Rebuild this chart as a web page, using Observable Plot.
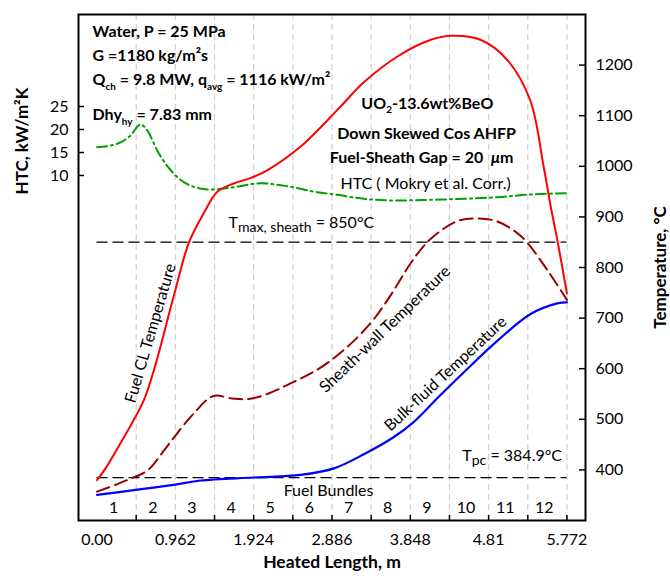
<!DOCTYPE html>
<html><head><meta charset="utf-8">
<script src="https://cdn.jsdelivr.net/npm/d3@7"></script>
<script src="https://cdn.jsdelivr.net/npm/@observablehq/plot@0.6"></script>
<style>
html,body{margin:0;padding:0;background:#fff;}
</style>
</head><body><div id="chart"></div>
<script>
// ---------- data ----------
const totalLength = 5.772;
const bundleLength = 0.481;
const bundleNumbers = [1,2,3,4,5,6,7,8,9,10,11,12];
const xTickValues = [0, 0.962, 1.924, 2.886, 3.848, 4.81, 5.772];
const xTickLabels = ["0.00", "0.962", "1.924", "2.886", "3.848", "4.81", "5.772"];
const tempTicks = [400, 500, 600, 700, 800, 900, 1000, 1100, 1200];
const htcTicks = [10, 15, 20, 25];
const tMaxSheath = 850;
const tPc = 384.9;

// Fuel centreline temperature, °C
const fuelClX = [0, 0.1, 0.31, 0.575, 0.70, 0.94, 1.13, 1.31, 1.48, 1.68, 1.89, 2.09, 2.5, 2.99, 3.27, 3.69, 4.1, 4.34, 4.71, 5.04, 5.32, 5.485, 5.571, 5.653, 5.772];
const fuelClT = [380, 402, 459, 538, 598, 742, 850, 907, 950, 966, 977, 992, 1039, 1118, 1165, 1217, 1250, 1258, 1250, 1210, 1131, 1000, 922, 855, 749];

// Sheath-wall temperature, °C
const sheathX = [0, 0.25, 0.49, 0.55, 0.636, 0.92, 1.19, 1.43, 1.66, 1.86, 2.09, 2.377, 2.705, 3.032, 3.36, 3.606, 3.85, 4.056, 4.26, 4.45, 4.671, 4.916, 5.162, 5.285, 5.531, 5.772];
const sheathT = [357, 372, 388, 392, 401, 459, 512, 546, 541, 540, 550, 571, 598, 637, 690, 745, 808, 850, 877, 893, 897, 891, 868, 849, 795, 736];

// Bulk-fluid temperature, °C
const bulkX = [0, 0.452, 0.96, 1.271, 1.926, 2.5, 2.909, 3.278, 3.646, 3.892, 4.2, 4.506, 4.916, 5.326, 5.653, 5.772];
const bulkT = [350.6, 360, 371, 379, 385, 390, 403, 431, 465, 495, 545, 593, 655, 708, 729, 731];

// HTC (Mokry et al. correlation), kW/m2K
const htcX = [0, 0.248, 0.412, 0.534, 0.617, 0.74, 0.943, 1.149, 1.394, 1.677, 2.009, 2.291, 2.705, 2.951, 3.278, 3.688, 4.097, 4.506, 4.916, 5.326, 5.776];
const htcV = [16.15, 16.9, 18.7, 21.1, 19.8, 15.4, 10.4, 7.8, 6.96, 7.46, 8.3, 7.8, 6.37, 5.8, 4.93, 4.57, 4.72, 4.93, 5.28, 5.87, 6.15];

// ---------- layout ----------
const W = 670, H = 576;
const mL = 78, mR = 85, mT = 14, mB = 56;
const frameW = W - mL - mR, frameH = H - mT - mB;
const tempDomain = [300, 1300];
const htcDomain = [-65, 45];
const htcToT = h => tempDomain[0] + (h - htcDomain[0]) * (tempDomain[1] - tempDomain[0]) / (htcDomain[1] - htcDomain[0]);

const fuelCl = fuelClX.map((x, i) => ({x, t: fuelClT[i]}));
const sheath = sheathX.map((x, i) => ({x, t: sheathT[i]}));
const bulk = bulkX.map((x, i) => ({x, t: bulkT[i]}));
const htc = htcX.map((x, i) => ({x, t: htcToT(htcV[i])}));
const bundleEdges = bundleNumbers.map(k => k * bundleLength);

const FONT = "Lato, 'Open Sans', sans-serif";

const boldLeftNotes = [
  {x: -0.055, t: 1266, s: "Water, P = 25 MPa"},
  {x: -0.055, t: 1219, s: "G =1180 kg/m²s"},
  {x: -0.055, t: 1170, s: "Q_{ch} = 9.8 MW, q_{avg} = 1116 kW/m²"},
  {x: -0.055, t: 1102, s: "Dhy_{hy} = 7.83 mm"}
];
const boldCenterNotes = [
  {x: 4.057, t: 1124, s: "UO_{2}-13.6wt%BeO"},
  {x: 4.048, t: 1065, s: "Down Skewed Cos AHFP"},
  {x: 3.986, t: 1017, s: "Fuel-Sheath Gap = 20  *{μ}m"}
];
const plainCenterNotes = [
  {x: 4.036, t: 966, s: "HTC ( Mokry et al. Corr.)"},
  {x: 2.844, t: 359, s: "Fuel Bundles"}
];
const plainLeftNotes = [
  {x: 1.615, t: 889, s: "T~{max, sheath} = 850°C"},
  {x: 4.486, t: 428.5, s: "T~{pc} = 384.9°C"}
];
const curveLabels = [
  {x: 0.657, t: 670, s: "Fuel CL Temperature", r: -73.6},
  {x: 3.537, t: 678, s: "Sheath-wall Temperature", r: -44},
  {x: 4.281, t: 590, s: "Bulk-fluid Temperature", r: -43}
];

const chart = Plot.plot({
  width: W, height: H,
  marginLeft: mL, marginRight: mR, marginTop: mT, marginBottom: mB,
  style: {fontFamily: FONT, fontSize: "16px", background: "#fff", color: "#000"},
  x: {domain: [-0.228, 6.0], label: null, axis: null},
  y: {domain: tempDomain, label: null, axis: null},
  marks: [
    Plot.ruleX(bundleEdges, {stroke: "#d0d0d0", strokeWidth: 1.2, strokeDasharray: "6,4"}),
    Plot.tickX(bundleEdges, {stroke: "#000", strokeWidth: 1.5, insetTop: frameH - 5}),
    Plot.ruleY([tMaxSheath, tPc], {x1: 0, x2: totalLength, stroke: "#000", strokeWidth: 1.3, strokeDasharray: "11,5"}),
    Plot.line(htc, {x: "x", y: "t", stroke: "#00a000", strokeWidth: 2, strokeDasharray: "10,4,2,4", curve: "monotone-x"}),
    Plot.line(bulk, {x: "x", y: "t", stroke: "#0000ff", strokeWidth: 2.2, curve: "catmull-rom"}),
    Plot.line(sheath, {x: "x", y: "t", stroke: "#990000", strokeWidth: 2, strokeDasharray: "13,6", curve: "catmull-rom"}),
    Plot.line(fuelCl, {x: "x", y: "t", stroke: "#ff0000", strokeWidth: 2, curve: "catmull-rom"}),
    Plot.frame({stroke: "#000", strokeWidth: 2}),
    // axes
    Plot.axisX(xTickValues, {anchor: "bottom", tickSize: 0, tickPadding: 13, fontSize: 16, label: null,
      tickFormat: d => xTickLabels[xTickValues.indexOf(d)]}),
    Plot.axisY(tempTicks, {anchor: "right", tickSize: 0, tickPadding: 10, fontSize: 16, label: null,
      tickFormat: d => String(d)}),
    Plot.tickY(tempTicks, {y: d => d, stroke: "#000", strokeWidth: 1.5, insetLeft: frameW - 6}),
    Plot.tickY(htcTicks, {y: htcToT, stroke: "#000", strokeWidth: 1.5, insetRight: frameW - 6}),
    Plot.text(htcTicks, {y: htcToT, text: d => String(d), frameAnchor: "left", textAnchor: "end", dx: -10, fontSize: 16}),
    // axis titles
    Plot.text(["HTC, kW/m²K"], {y: () => htcToT(17.5), frameAnchor: "left", textAnchor: "middle", dx: -56, rotate: -90, fontWeight: "bold", fontSize: 17}),
    Plot.text(["Temperature, °C"], {y: () => 800, frameAnchor: "right", textAnchor: "middle", dx: 75, rotate: -90, fontWeight: "bold", fontSize: 17}),
    Plot.text(["Heated Length, m"], {x: () => totalLength / 2, frameAnchor: "bottom", dy: 47, fontWeight: "bold", fontSize: 17.5}),
    // bundle numbers
    Plot.text(bundleNumbers, {x: k => (k - 0.5) * bundleLength, y: () => 324, text: k => String(k), dx: -3, fontSize: 16}),
    // annotations
    Plot.text(boldLeftNotes, {x: "x", y: "t", text: "s", textAnchor: "start", fontWeight: "bold", fontSize: 16}),
    Plot.text(boldCenterNotes, {x: "x", y: "t", text: "s", textAnchor: "middle", fontWeight: "bold", fontSize: 16}),
    Plot.text(plainCenterNotes, {x: "x", y: "t", text: "s", textAnchor: "middle", fontSize: 16}),
    Plot.text(plainLeftNotes, {x: "x", y: "t", text: "s", textAnchor: "start", fontSize: 16}),
    Plot.text(curveLabels, {x: "x", y: "t", text: "s", rotate: "r", textAnchor: "middle", fontSize: 16})
  ]
});

document.getElementById("chart").appendChild(chart);

// rich text: _{sub}, ~{large sub}, ^{sup}, *{italic}
(function richText(root) {
  const ns = "http://www.w3.org/2000/svg";
  root.querySelectorAll("text").forEach(t => {
    const s = t.textContent;
    if (!/[_~^*]\{/.test(s)) return;
    const fs = parseFloat(getComputedStyle(t).fontSize) || 16;
    while (t.firstChild) t.removeChild(t.firstChild);
    let offset = 0;
    const add = (str, kind) => {
      if (!str) return;
      const ts = document.createElementNS(ns, "tspan");
      let target = 0, size = null;
      if (kind === "_") { target = 0.3 * fs; size = 0.62; }
      else if (kind === "~") { target = 0.3 * fs; size = 0.88; }
      else if (kind === "^") { target = -0.4 * fs; size = 0.62; }
      if (target - offset !== 0) ts.setAttribute("dy", target - offset);
      offset = target;
      if (size) ts.setAttribute("font-size", size * fs);
      if (kind === "*") ts.setAttribute("font-style", "italic");
      ts.textContent = str;
      t.appendChild(ts);
    };
    const re = /([_~^*])\{([^}]*)\}/g;
    let last = 0, m;
    while ((m = re.exec(s))) {
      add(s.slice(last, m.index), null);
      add(m[2], m[1]);
      last = re.lastIndex;
    }
    add(s.slice(last), null);
  });
})(chart);
</script>
</body></html>
